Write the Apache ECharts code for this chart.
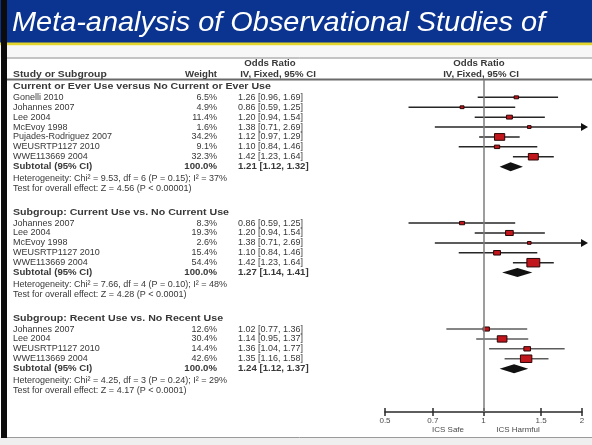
<!DOCTYPE html>
<html>
<head>
<meta charset="utf-8">
<script src="https://cdn.jsdelivr.net/npm/echarts@6/dist/echarts.min.js"></script>
<style>
  html, body { margin: 0; padding: 0; background: #fff; }
  #chart { width: 592px; height: 445px; }
</style>
</head>
<body>
<div id="chart"></div>
<script>
// ---------- data ----------
const titleText = 'Meta-analysis of Observational Studies of';

const groupTitles = [
  'Current or Ever Use versus No Current or Ever Use',
  'Subgroup: Current Use vs. No Current Use',
  'Subgroup: Recent Use vs. No Recent Use'
];

const g1Studies = ['Gonelli 2010', 'Johannes 2007', 'Lee 2004', 'McEvoy 1998', 'Pujades-Rodriguez 2007', 'WEUSRTP1127 2010', 'WWE113669 2004'];
const g1Weights = [6.5, 4.9, 11.4, 1.6, 34.2, 9.1, 32.3];
const g1OR = [1.26, 0.86, 1.20, 1.38, 1.12, 1.10, 1.42];
const g1Lo = [0.96, 0.59, 0.94, 0.71, 0.97, 0.84, 1.23];
const g1Hi = [1.69, 1.25, 1.54, 2.69, 1.29, 1.46, 1.64];

const g2Studies = ['Johannes 2007', 'Lee 2004', 'McEvoy 1998', 'WEUSRTP1127 2010', 'WWE113669 2004'];
const g2Weights = [8.3, 19.3, 2.6, 15.4, 54.4];
const g2OR = [0.86, 1.20, 1.38, 1.10, 1.42];
const g2Lo = [0.59, 0.94, 0.71, 0.84, 1.23];
const g2Hi = [1.25, 1.54, 2.69, 1.46, 1.64];

const g3Studies = ['Johannes 2007', 'Lee 2004', 'WEUSRTP1127 2010', 'WWE113669 2004'];
const g3Weights = [12.6, 30.4, 14.4, 42.6];
const g3OR = [1.02, 1.14, 1.36, 1.35];
const g3Lo = [0.77, 0.95, 1.04, 1.16];
const g3Hi = [1.36, 1.37, 1.77, 1.58];

const subtotalOR = [1.21, 1.27, 1.24];
const subtotalLo = [1.12, 1.14, 1.12];
const subtotalHi = [1.32, 1.41, 1.37];

const heterogeneity = [
  'Heterogeneity: Chi\u00b2 = 9.53, df = 6 (P = 0.15); I\u00b2 = 37%',
  'Heterogeneity: Chi\u00b2 = 7.66, df = 4 (P = 0.10); I\u00b2 = 48%',
  'Heterogeneity: Chi\u00b2 = 4.25, df = 3 (P = 0.24); I\u00b2 = 29%'
];
const overallEffect = [
  'Test for overall effect: Z = 4.56 (P < 0.00001)',
  'Test for overall effect: Z = 4.28 (P < 0.0001)',
  'Test for overall effect: Z = 4.17 (P < 0.0001)'
];

const tickValues = [0.5, 0.7, 1, 1.5, 2];
const directionLabels = ['ICS Safe', 'ICS Harmful'];

// ---------- layout helpers ----------
const FONT = '"Liberation Sans", Arial, sans-serif';
const TXT = '#383838';
const X_MIN = Math.log(tickValues[0]);
const X_MAX = Math.log(tickValues[tickValues.length - 1]);
const COL_STUDY = 13, COL_WEIGHT = 217, COL_CI = 238;

const groups = [
  { studies: g1Studies, w: g1Weights, or: g1OR, lo: g1Lo, hi: g1Hi },
  { studies: g2Studies, w: g2Weights, or: g2OR, lo: g2Lo, hi: g2Hi },
  { studies: g3Studies, w: g3Weights, or: g3OR, lo: g3Lo, hi: g3Hi }
];

const fmtW = v => v.toFixed(1) + '%';
const fmtCI = (o, l, h) => `${o.toFixed(2)} [${l.toFixed(2)}, ${h.toFixed(2)}]`;

// Build table rows (row positions are in line units on the y axis)
const textRows = [];
const studyPts = [];
const diamonds = [];
let pos = 0;
groups.forEach((g, gi) => {
  textRows.push({ y: pos, bold: true, wide: true, study: groupTitles[gi] });
  pos += 1.05;
  g.studies.forEach((s, i) => {
    textRows.push({ y: pos, study: s, weight: fmtW(g.w[i]), ci: fmtCI(g.or[i], g.lo[i], g.hi[i]) });
    studyPts.push([Math.log(g.or[i]), pos, Math.log(g.lo[i]), Math.log(g.hi[i]), g.w[i], gi]);
    pos += 1;
  });
  textRows.push({ y: pos, bold: true, study: 'Subtotal (95% CI)', weight: '100.0%',
                  ci: fmtCI(subtotalOR[gi], subtotalLo[gi], subtotalHi[gi]) });
  diamonds.push([Math.log(subtotalOR[gi]), pos, Math.log(subtotalLo[gi]), Math.log(subtotalHi[gi])]);
  pos += 1.2;
  textRows.push({ y: pos, study: heterogeneity[gi] });
  pos += 1;
  textRows.push({ y: pos, study: overallEffect[gi] });
  pos += 2.45;
});

function txt(x, y, text, opts) {
  opts = opts || {};
  return {
    type: 'text', x: x, y: y,
    scaleX: opts.scaleX || (opts.bold ? 1.07 : 1.0),
    style: {
      text: text, fill: opts.fill || TXT,
      font: (opts.bold ? 'bold ' : '') + (opts.size || 9) + 'px ' + FONT,
      align: opts.align || 'left', verticalAlign: 'middle'
    }
  };
}

const chart = echarts.init(document.getElementById('chart'), null, { renderer: 'canvas' });

const option = {
  backgroundColor: '#ffffff',
  animation: false,
  grid: { left: 385, right: 10, top: 80, bottom: 33 },
  xAxis: [
    {
      type: 'value', min: X_MIN, max: X_MAX, position: 'bottom',
      splitLine: { show: false },
      axisLine: { show: true, onZero: false, lineStyle: { color: '#2a2a2a', width: 1.5 } },
      axisTick: { show: true, length: 4, lineStyle: { color: '#2a2a2a', width: 1.5 },
                  customValues: tickValues.map(Math.log) },
      axisLabel: {
        show: true, margin: 5, fontSize: 8, color: '#4a4a4a', fontFamily: FONT,
        customValues: tickValues.map(Math.log),
        formatter: v => String(parseFloat(Math.exp(v).toFixed(2)))
      }
    },
    {
      type: 'value', min: X_MIN, max: X_MAX, position: 'bottom',
      splitLine: { show: false }, axisLabel: { show: false },
      axisLine: { show: false, onZero: false },
      axisTick: { show: true, inside: true, length: 4, lineStyle: { color: '#2a2a2a', width: 1.5 },
                  customValues: tickValues.map(Math.log) }
    }
  ],
  yAxis: { type: 'value', inverse: true, min: -0.7, max: 32.83, show: false },
  series: [
    {
      // table text on the left
      type: 'custom', clip: false, silent: true,
      data: textRows.map(r => [0, r.y]),
      renderItem: function (params, api) {
        const r = textRows[params.dataIndex];
        const y = api.coord([0, api.value(1)])[1];
        const children = [txt(COL_STUDY, y, r.study, { bold: r.bold, scaleX: r.wide ? 1.18 : 0 })];
        if (r.weight) children.push(txt(COL_WEIGHT, y, r.weight, { bold: r.bold, align: 'right' }));
        if (r.ci) children.push(txt(COL_CI, y, r.ci, { bold: r.bold }));
        return { type: 'group', children: children };
      }
    },
    {
      // study estimates: CI whiskers and weighted squares
      type: 'custom', clip: false, silent: true, z: 3,
      data: studyPts,
      renderItem: function (params, api) {
        const row = api.value(1);
        const gi = api.value(5);
        const p = api.coord([api.value(0), row]);
        const lo = api.coord([Math.max(api.value(2), X_MIN), row]);
        const clipped = api.value(3) > X_MAX;
        const hi = api.coord([Math.min(api.value(3), X_MAX), row]);
        const w = api.value(4);
        const bw = Math.max(3.6, 1.75 * Math.sqrt(w));
        const bh = Math.max(2.8, 1.15 * Math.sqrt(w));
        const lineColor = gi === 2 ? '#5c5c5c' : '#262626';
        const children = [
          { type: 'line', shape: { x1: lo[0], y1: lo[1], x2: hi[0], y2: hi[1] },
            style: { stroke: lineColor, lineWidth: 1.5 } },
          { type: 'rect', shape: { x: p[0] - bw / 2, y: p[1] - bh / 2, width: bw, height: bh },
            style: { fill: '#c0161c', stroke: '#2a0606', lineWidth: 1 } }
        ];
        if (clipped) {
          children.push({ type: 'polygon',
            shape: { points: [[hi[0] - 1, hi[1] - 4], [hi[0] + 6, hi[1]], [hi[0] - 1, hi[1] + 4]] },
            style: { fill: '#111' } });
        }
        return { type: 'group', children: children };
      }
    },
    {
      // pooled subtotals as diamonds
      type: 'custom', clip: false, silent: true, z: 3,
      data: diamonds,
      renderItem: function (params, api) {
        const row = api.value(1);
        const c = api.coord([api.value(0), row]);
        const l = api.coord([api.value(2), row]);
        const r = api.coord([api.value(3), row]);
        return { type: 'polygon',
          shape: { points: [[l[0], c[1]], [c[0], c[1] - 4.5], [r[0], c[1]], [c[0], c[1] + 4.5]] },
          style: { fill: '#111' } };
      },
      markLine: {
        silent: true, symbol: 'none', label: { show: false },
        lineStyle: { color: '#7c7c7c', width: 1.5, type: 'solid' },
        data: [{ xAxis: 0 }]
      }
    }
  ],
  graphic: [
    // slide frame
    { type: 'rect', shape: { x: 0, y: 0, width: 592, height: 45 }, style: { fill: '#0b3490' }, z: 0 },
    { type: 'rect', shape: { x: 0, y: 42.5, width: 592, height: 3 }, style: { fill: '#e3d52c' }, z: 0 },
    { type: 'rect', shape: { x: 0, y: 45.5, width: 592, height: 12 }, style: { fill: '#f7f7f7' }, z: 0 },
    { type: 'rect', shape: { x: 0, y: 437, width: 592, height: 8 }, style: { fill: '#efefef' }, z: 0 },
    { type: 'line', shape: { x1: 7, y1: 437.5, x2: 592, y2: 437.5 }, style: { stroke: '#9a9a9a', lineWidth: 1 }, z: 1 },
    { type: 'rect', shape: { x: 1, y: 0, width: 6, height: 438 }, style: { fill: '#0c0c0c' }, z: 2 },
    // table rules
    { type: 'line', shape: { x1: 7, y1: 58, x2: 592, y2: 58 }, style: { stroke: '#8a8a8a', lineWidth: 1 }, z: 1 },
    { type: 'line', shape: { x1: 7, y1: 79.5, x2: 592, y2: 79.5 }, style: { stroke: '#6a6a6a', lineWidth: 2 }, z: 1 },
    // title
    { type: 'text', x: 12, y: 23.5, scaleX: 1.07, z: 3,
      style: { text: titleText, fill: '#ffffff', font: 'italic 27px ' + FONT, verticalAlign: 'middle' } },
    // column headers
    Object.assign(txt(COL_STUDY, 75, 'Study or Subgroup', { bold: true, scaleX: 1.15 }), { z: 3 }),
    Object.assign(txt(COL_WEIGHT, 75, 'Weight', { bold: true, align: 'right' }), { z: 3 }),
    Object.assign(txt(270, 63.5, 'Odds Ratio', { bold: true, align: 'center' }), { z: 3 }),
    Object.assign(txt(278, 74.5, 'IV, Fixed, 95% CI', { bold: true, align: 'center' }), { z: 3 }),
    Object.assign(txt(479, 63.5, 'Odds Ratio', { bold: true, align: 'center' }), { z: 3 }),
    Object.assign(txt(481, 74.5, 'IV, Fixed, 95% CI', { bold: true, align: 'center' }), { z: 3 }),
    // direction labels under the axis
    Object.assign(txt(448, 429.5, directionLabels[0], { align: 'center', size: 8, fill: '#4a4a4a' }), { z: 3 }),
    Object.assign(txt(518, 429.5, directionLabels[1], { align: 'center', size: 8, fill: '#4a4a4a' }), { z: 3 })
  ]
};

chart.setOption(option);
</script>
</body>
</html>
